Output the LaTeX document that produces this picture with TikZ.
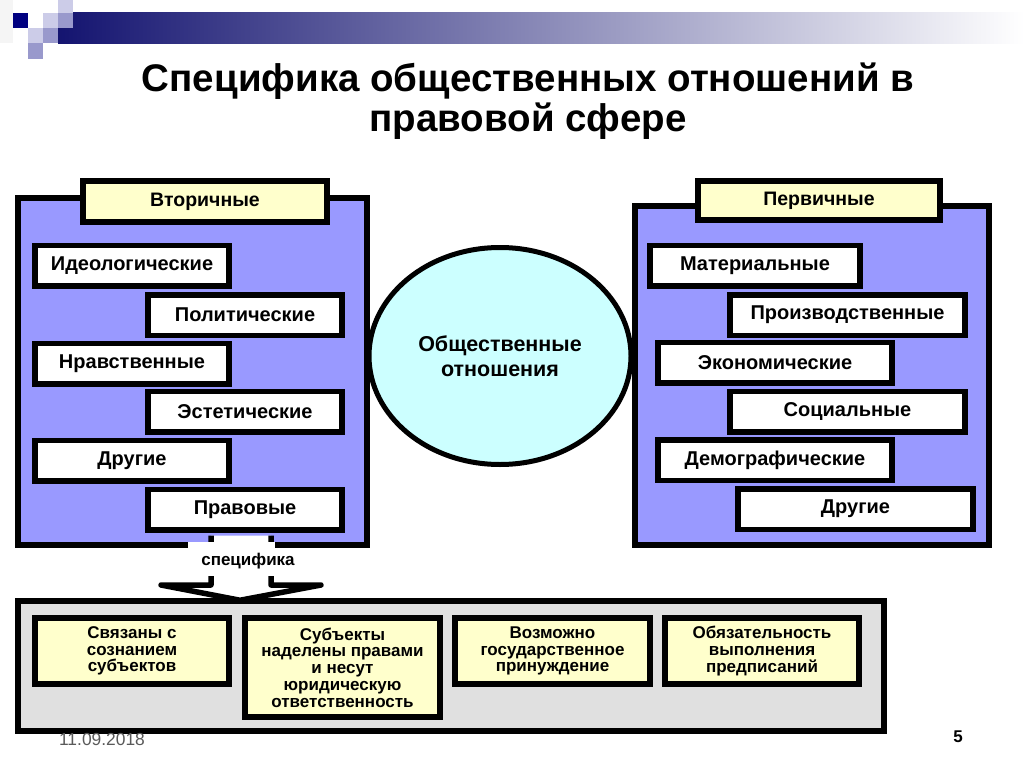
\documentclass[tikz,border=0pt]{standalone}
\usepackage{fontspec}
\usepackage{graphicx}
\setmainfont{Liberation Sans}
\usetikzlibrary{calc,shapes.geometric}
\definecolor{panelblue}{RGB}{153,153,255}
\definecolor{hdryellow}{RGB}{255,255,204}
\definecolor{cyanfill}{RGB}{204,255,255}
\definecolor{graybg}{RGB}{224,224,224}
\definecolor{navybar}{RGB}{20,20,112}
\definecolor{navysq}{RGB}{0,0,128}
\definecolor{lavlight}{RGB}{204,204,232}
\definecolor{lavmed}{RGB}{153,153,204}
\definecolor{datecol}{RGB}{90,90,90}
\tikzset{
  panel/.style={draw=black, line width=5.5pt, fill=panelblue},
  hdr/.style={draw=black, line width=5.5pt, fill=hdryellow, inner sep=0pt,
    font=\bfseries\fontsize{19.5}{21}\selectfont},
  item/.style={draw=black, line width=5.5pt, fill=white, inner sep=0pt,
    minimum height=40.5pt, font=\bfseries\fontsize{20}{22}\selectfont},
  feat/.style={draw=black, line width=5.5pt, fill=hdryellow, inner sep=0pt,
    align=center, font=\bfseries\fontsize{17}{16.7}\selectfont},
  blockarrow/.style={draw=black, line width=5.5pt, fill=white, line join=round},
}
\begin{document}
\begin{tikzpicture}[x=1pt,y=-1pt]
\useasboundingbox (0,0) rectangle (1024,767);
\fill[white] (0,0) rectangle (1024,767);
% template decoration
\fill[black!4] (0,0) rectangle (13,43);
\shade[left color=navybar, right color=white] (58,13) rectangle (1024,44);
\fill[lavlight] (58,0) rectangle (73,13);
\fill[lavmed] (58,13) rectangle (73,28);
\fill[lavlight] (43,13) rectangle (58,28);
\fill[navysq] (13,13) rectangle (28,28);
\fill[lavlight] (28,28) rectangle (43,43);
\fill[lavmed] (43,28) rectangle (58,43);
\fill[lavmed] (28,43) rectangle (43,59);
% title
\node[font=\bfseries\fontsize{38.5}{40}\selectfont, align=center] (title) at (528,101)
  {Специфика общественных отношений в\\правовой сфере};
% panels
\node[panel, minimum width=349pt, minimum height=347pt] (lp) at (192.5,371.5) {};
\node[panel, minimum width=354pt, minimum height=339pt] (rp) at (812,375.5) {};
\node[draw=black, line width=5.5pt, fill=graybg, minimum width=866pt, minimum height=130pt] (bp) at (451,666) {};
% headers
\node[hdr, minimum width=244pt, minimum height=41pt] (sec) at (205,201.5) {Вторичные};
\node[hdr, minimum width=242pt, minimum height=39pt] (pri) at (819,200.5) {Первичные};
% left items
\node[item, minimum width=194pt] (ideo) at (132,265.5) {Идеологические};
\node[item, minimum width=194pt] (poli) at (245,315) {Политические};
\node[item, minimum width=194pt] (nrav) at (132,363.5) {Нравственные};
\node[item, minimum width=194pt] (este) at (245,411.5) {Эстетические};
\node[item, minimum width=194pt] (drl) at (132,460.5) {Другие};
\node[item, minimum width=194pt] (prav) at (245,509.5) {Правовые};
% right items
\node[item, minimum width=210pt] (mat) at (755,265.5) {Материальные};
\node[item, minimum width=235pt] (proi) at (847.5,315) {Производственные};
\node[item, minimum width=234pt] (econ) at (775,362.5) {Экономические};
\node[item, minimum width=235pt] (soc) at (847.5,411.5) {Социальные};
\node[item, minimum width=234pt] (demo) at (775,460) {Демографические};
\node[item, minimum width=235pt] (drr) at (855.5,509) {Другие};
% ellipse
\node[ellipse, draw=black, line width=5pt, fill=cyanfill, minimum width=262pt, minimum height=217pt,
  align=center, font=\bfseries\fontsize{21.5}{25}\selectfont] (soc0) at (500,356)
  {Общественные\\отношения};
% arrow from prav to bottom panel
\coordinate (tip) at ($(bp.north)+(-211,2)$);
\draw[blockarrow] ($(prav.south)+(-34,3)$) -- ($(prav.south)+(-34,52.5)$)
  -- ($(prav.south)+(-84,52.5)$) -- (tip) -- ($(prav.south)+(76,52.5)$)
  -- ($(prav.south)+(26,52.5)$) -- ($(prav.south)+(26,3)$);
\fill[white] (188,541.5) rectangle (274.5,576);
\node[inner sep=0pt, font=\bfseries\fontsize{17}{19}\selectfont] (spec) at (248,561) {специфика};
% bottom features
\node[feat, minimum width=194pt, minimum height=66pt] (f1) at (132,651)
  {Связаны с\\сознанием\\субъектов};
\node[feat, minimum width=195pt, minimum height=99pt] (f2) at (342.5,667.5)
  {Субъекты\\наделены правами\\и несут\\юридическую\\ответственность};
\node[feat, minimum width=195pt, minimum height=66pt] (f3) at (552.5,651)
  {Возможно\\государственное\\принуждение};
\node[feat, minimum width=194pt, minimum height=66pt] (f4) at (762,651)
  {Обязательность\\выполнения\\предписаний};
% footer
\node[text=datecol, font=\fontsize{17.4}{19}\selectfont] (date) at (102,740) {11.09.2018};
\node[font=\bfseries\fontsize{17}{19}\selectfont] (page) at (958,737) {5};
\end{tikzpicture}
\end{document}
